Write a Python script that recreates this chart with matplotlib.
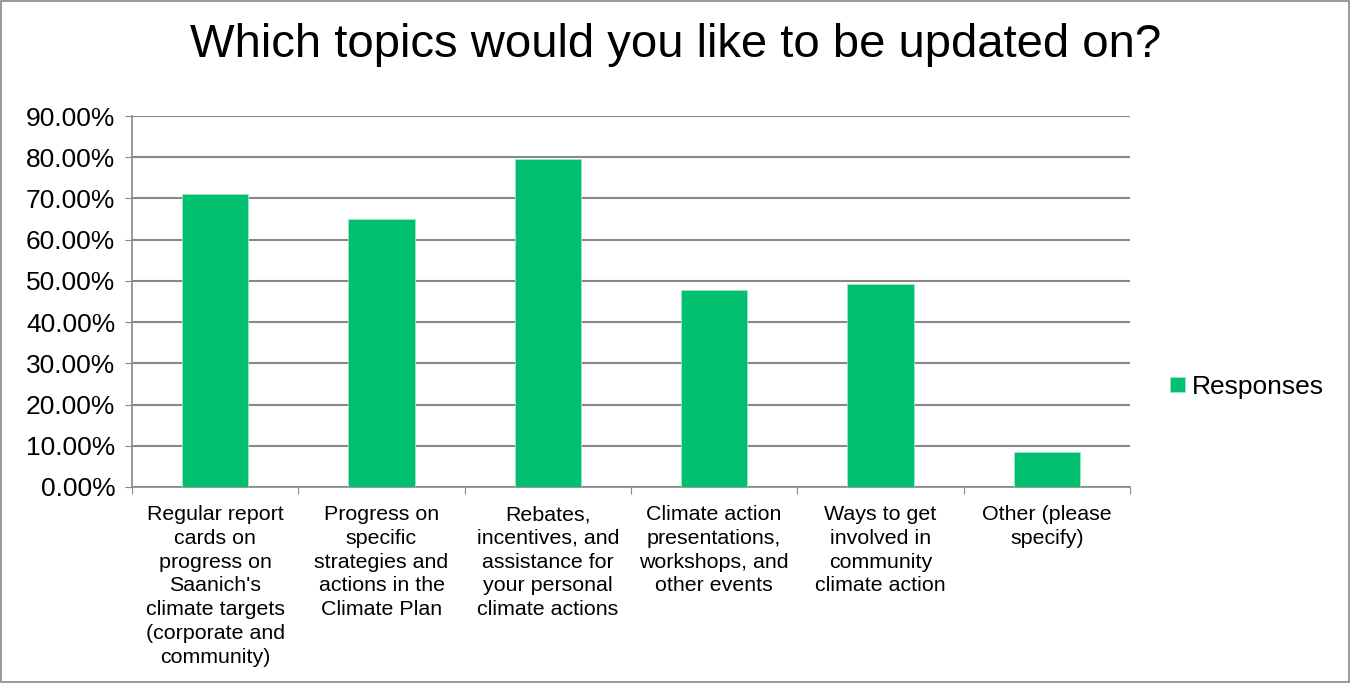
import matplotlib.pyplot as plt
import numpy as np
from matplotlib.patches import Rectangle

plt.rcParams['font.family'] = ['Liberation Sans', 'DejaVu Sans']

categories = ["Regular report\ncards on\nprogress on\nSaanich's\nclimate targets\n(corporate and\ncommunity)",
              "Progress on\nspecific\nstrategies and\nactions in the\nClimate Plan",
              "Rebates,\nincentives, and\nassistance for\nyour personal\nclimate actions",
              "Climate action\npresentations,\nworkshops, and\nother events",
              "Ways to get\ninvolved in\ncommunity\nclimate action",
              "Other (please\nspecify)"]
values = [71.0, 65.0, 79.6, 47.7, 49.3, 8.6]
yticks = [0, 10, 20, 30, 40, 50, 60, 70, 80, 90]

fig = plt.figure(figsize=(13.51, 6.83), dpi=100)
# outer chart border
fig.patches.append(Rectangle((0.0005, 0.001), 0.998, 0.997, transform=fig.transFigure,
                             fill=False, edgecolor='#888888', linewidth=1.2))

ax = fig.add_axes([132/1351, 1-487/683, (1130-132)/1351, (487-116)/683])
x = np.arange(len(values))
bars = ax.bar(x, values, width=0.4, color='#00BF6F', edgecolor='#9FE6C4', linewidth=0.6,
              label='Responses', zorder=3)

ax.set_xlim(-0.5, len(values)-0.5)
ax.set_ylim(0, 90)
ax.set_yticks(yticks)
ax.set_yticklabels(['%.2f%%' % v for v in yticks], fontsize=19)
ax.yaxis.grid(True, color='#888888', linewidth=1.5, zorder=0)
ax.set_axisbelow(True)

ax.set_xticks(np.arange(-0.5, len(values)), minor=False)
ax.set_xticklabels([])
ax.set_xticks(x, minor=True)
ax.set_xticklabels(categories, minor=True, fontsize=15.4, linespacing=1.32, va='top')
ax.tick_params(axis='x', which='minor', length=0, pad=13)
ax.tick_params(axis='x', which='major', length=5, color='#888888', direction='out')
ax.tick_params(axis='y', length=5, color='#888888', pad=7)

for s in ['top', 'right']:
    ax.spines[s].set_visible(False)
for s in ['left', 'bottom']:
    ax.spines[s].set_color('#888888')
    ax.spines[s].set_linewidth(1.2)

fig.text(0.5, 1-45/683, 'Which topics would you like to be updated on?', ha='center', va='center',
         fontsize=34)

ax.legend(loc='center left', bbox_to_anchor=(1.0, 0.27), frameon=False, fontsize=19,
          handlelength=0.55, handleheight=0.55, handletextpad=0.28, borderaxespad=1.13)

fig.savefig('out.png', dpi=100)
